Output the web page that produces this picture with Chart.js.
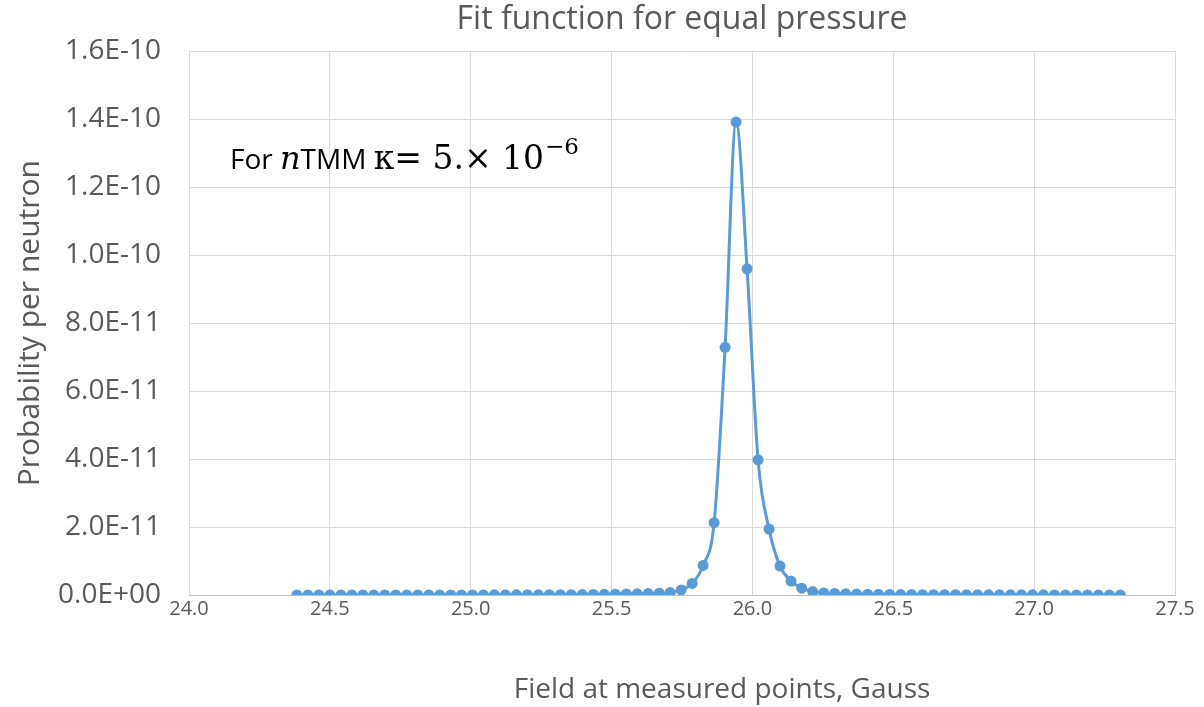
<!DOCTYPE html>
<html>
<head>
<meta charset="utf-8">
<script src="https://cdn.jsdelivr.net/npm/chart.js@4/dist/chart.umd.min.js"></script>
<style>
  html, body { margin: 0; padding: 0; background: #ffffff; }
  #wrap { width: 1204px; height: 707px; }
</style>
</head>
<body>
<div id="wrap"><canvas id="grafico" width="1204" height="707"></canvas></div>
<script>
// Campo en los puntos medidos (Gauss)
const campo = [
  24.383, 24.422, 24.461, 24.500, 24.539, 24.578, 24.617, 24.656, 24.695, 24.734,
  24.773, 24.812, 24.851, 24.890, 24.929, 24.967, 25.006, 25.045, 25.084, 25.123,
  25.162, 25.201, 25.240, 25.279, 25.318, 25.357, 25.396, 25.435, 25.474, 25.513,
  25.552, 25.591, 25.630, 25.669, 25.708, 25.747, 25.786, 25.825, 25.864, 25.903,
  25.942, 25.981, 26.020, 26.059, 26.098, 26.137, 26.175, 26.214, 26.253, 26.292,
  26.331, 26.370, 26.409, 26.448, 26.487, 26.526, 26.565, 26.604, 26.643, 26.682,
  26.721, 26.760, 26.799, 26.838, 26.877, 26.916, 26.955, 26.994, 27.033, 27.072,
  27.111, 27.150, 27.189, 27.228, 27.267, 27.306
];

// Probabilidad por neutron
const probabilidad = [
  1.0e-14, 1.0e-14, 1.1e-14, 1.1e-14, 1.2e-14, 1.3e-14, 1.4e-14, 1.5e-14, 1.6e-14, 1.7e-14,
  1.8e-14, 2.0e-14, 2.2e-14, 2.4e-14, 2.6e-14, 2.9e-14, 3.2e-14, 3.6e-14, 4.0e-14, 4.5e-14,
  5.1e-14, 5.8e-14, 6.7e-14, 7.8e-14, 9.2e-14, 1.1e-13, 1.3e-13, 1.6e-13, 2.0e-13, 2.5e-13,
  3.0e-13, 3.6e-13, 4.3e-13, 5.2e-13, 7.0e-13, 1.5e-12, 3.4e-12, 8.7e-12, 2.13e-11, 7.29e-11,
  1.392e-10, 9.60e-11, 3.98e-11, 1.94e-11, 8.5e-12, 4.1e-12, 2.0e-12, 1.0e-12, 6.0e-13, 4.5e-13,
  3.5e-13, 2.8e-13, 2.3e-13, 1.9e-13, 1.6e-13, 1.4e-13, 1.2e-13, 1.05e-13, 9.2e-14, 8.2e-14,
  7.3e-14, 6.6e-14, 6.0e-14, 5.5e-14, 5.0e-14, 4.6e-14, 4.3e-14, 4.0e-14, 3.7e-14, 3.5e-14,
  3.3e-14, 3.1e-14, 2.9e-14, 2.8e-14, 2.6e-14, 2.5e-14
];

const ticksX = [24.0, 24.5, 25.0, 25.5, 26.0, 26.5, 27.0, 27.5];
const ticksY = [0, 2e-11, 4e-11, 6e-11, 8e-11, 1.0e-10, 1.2e-10, 1.4e-10, 1.6e-10];

const puntos = campo.map((x, i) => ({ x: x, y: probabilidad[i] }));

// Formato tipo Excel 0.0E+00
function formatoCientifico(v) {
  if (v === 0) return '0.0E+00';
  const partes = v.toExponential(1).split('e');
  const exp = parseInt(partes[1], 10);
  const signo = exp < 0 ? '-' : '+';
  return partes[0] + 'E' + signo + String(Math.abs(exp)).padStart(2, '0');
}

const gris = '#595959';
const fuente = '"Open Sans"';

// Textos extra: anotacion y titulo del eje x
const textosExtra = {
  id: 'textosExtra',
  afterDraw(chart) {
    const ctx = chart.ctx;
    ctx.save();
    ctx.textBaseline = 'alphabetic';

    // titulo eje x
    ctx.fillStyle = gris;
    ctx.font = '28px ' + fuente;
    ctx.textAlign = 'center';
    ctx.fillText('Field at measured points, Gauss', 722, 698);

    // anotacion
    ctx.textAlign = 'left';
    ctx.fillStyle = '#000000';
    let x = 230;
    const y = 169;
    const partes = [
      { t: 'For ', f: '28px ' + fuente },
      { t: 'n', f: 'italic 32px "DejaVu Serif"' },
      { t: 'TMM ', f: '28px ' + fuente },
      { t: '\u03BA= 5.\u00D7 10', f: '33px "DejaVu Serif"' }
    ];
    partes.forEach(p => {
      ctx.font = p.f;
      ctx.fillText(p.t, x, y);
      x += ctx.measureText(p.t).width;
    });
    ctx.font = '23px "DejaVu Serif"';
    ctx.fillText('\u2212' + '6', x + 1, y - 15);
    ctx.restore();
  }
};

const ctx = document.getElementById('grafico').getContext('2d');
new Chart(ctx, {
  type: 'scatter',
  data: {
    datasets: [{
      label: 'Probabilidad',
      data: puntos,
      showLine: true,
      borderColor: '#5b9bd5',
      backgroundColor: '#5b9bd5',
      borderWidth: 3,
      pointRadius: 5.5,
      pointHoverRadius: 5.5,
      pointBorderWidth: 0,
      cubicInterpolationMode: 'monotone'
    }]
  },
  options: {
    responsive: false,
    animation: false,
    layout: {
      padding: { left: 0, right: 29, top: 0, bottom: 0 }
    },
    plugins: {
      legend: { display: false },
      tooltip: { enabled: false },
      title: {
        display: true,
        fullSize: false,
        text: 'Fit function for equal pressure',
        color: gris,
        font: { family: 'Open Sans', size: 32, weight: 'normal' },
        padding: { top: 1, bottom: 12 }
      }
    },
    scales: {
      x: {
        type: 'linear',
        min: 24.0,
        max: 27.5,
        afterBuildTicks: s => { s.ticks = ticksX.map(v => ({ value: v })); },
        afterFit: s => { s.height = 112; },
        grid: { color: '#d9d9d9', lineWidth: 1, drawTicks: false },
        border: { color: '#bfbfbf', width: 1 },
        ticks: {
          color: gris,
          font: { family: 'Open Sans', size: 20 },
          padding: 2,
          maxRotation: 0,
          callback: v => Number(v).toFixed(1)
        }
      },
      y: {
        min: 0,
        max: 1.6e-10,
        afterBuildTicks: s => { s.ticks = ticksY.map(v => ({ value: v })); },
        afterFit: s => { s.width = 189; },
        grid: { color: '#d9d9d9', lineWidth: 1, drawTicks: false },
        border: { color: '#d9d9d9', width: 1 },
        title: {
          display: true,
          text: 'Probability per neutron',
          color: gris,
          font: { family: 'Open Sans', size: 30 },
          padding: { top: 12, bottom: 0 }
        },
        ticks: {
          color: gris,
          font: { family: 'Open Sans', size: 28 },
          padding: 28,
          callback: v => formatoCientifico(v)
        }
      }
    }
  },
  plugins: [textosExtra]
});
</script>
</body>
</html>
